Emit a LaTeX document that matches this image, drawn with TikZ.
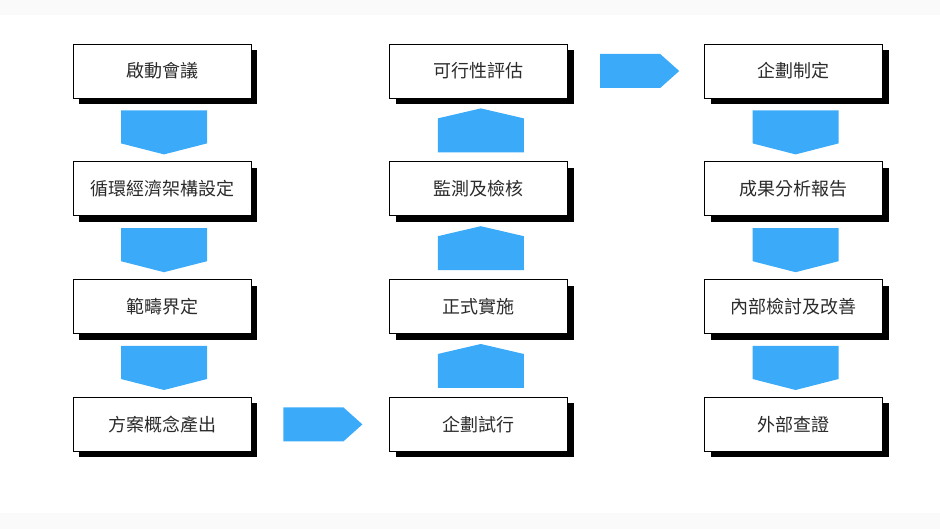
\documentclass[tikz,border=0pt]{standalone}
\usepackage{fontspec}
\newfontfamily\cjk{Noto Sans CJK TC}
\usetikzlibrary{calc,positioning,shadows}
\definecolor{flowblue}{HTML}{3AAAF9}
\definecolor{stripgray}{HTML}{FAFAFA}
\definecolor{textgray}{HTML}{2B2B2B}

\begin{document}
\begin{tikzpicture}[
    node distance=63pt,
    step box/.style={
      draw,thick,fill=white,text=textgray,
      minimum width=178pt,minimum height=54pt,
      font=\cjk\fontsize{18}{22}\selectfont,
      drop shadow={shadow xshift=6pt,shadow yshift=-6pt,fill=black,opacity=1}
    },
    flow/.style={fill=flowblue}
  ]
  \useasboundingbox (0,0) rectangle (940pt,529pt);
  \fill[stripgray] (0,0) rectangle (940pt,16pt);
  \fill[stripgray] (0,514pt) rectangle (940pt,529pt);

  % first column
  \node (a1) [step box] at (162pt,458pt) {啟動會議};
  \node (a2) [step box,below=of a1] {循環經濟架構設定};
  \node (a3) [step box,below=of a2] {範疇界定};
  \node (a4) [step box,below=of a3] {方案概念產出};

  % second column
  \node (b1) [step box,right=138pt of a1] {可行性評估};
  \node (b2) [step box,below=of b1] {監測及檢核};
  \node (b3) [step box,below=of b2] {正式實施};
  \node (b4) [step box,below=of b3] {企劃試行};

  % third column
  \node (c1) [step box,right=136pt of b1] {企劃制定};
  \node (c2) [step box,below=of c1] {成果分析報告};
  \node (c3) [step box,below=of c2] {內部檢討及改善};
  \node (c4) [step box,below=of c3] {外部查證};

  % draw arrows
  \foreach \x/\y in {a1/a2,a2/a3,a3/a4,c1/c2,c2/c3,c3/c4} {
    \fill [flow] ($(\x.south)+(-41pt,-12pt)$) -- ++(86pt,0) -- ++(0,-33pt)
      -- ++(-43pt,-11pt) -- ++(-43pt,11pt) -- cycle;
  }
  \foreach \x/\y in {b1/b2,b2/b3,b3/b4} {
    \fill [flow] ($(\x.south)+(-41pt,-54pt)$) -- ++(86pt,0) -- ++(0,34pt)
      -- ++(-43pt,10pt) -- ++(-43pt,-10pt) -- cycle;
  }
  \foreach \x/\y in {a4/b4,b1/c1} {
    \fill [flow] ($(\x.east)+(32pt,-17pt)$) -- ++(60pt,0) -- ++(19pt,17pt)
      -- ++(-19pt,17pt) -- ++(-60pt,0) -- cycle;
  }
\end{tikzpicture}
\end{document}
